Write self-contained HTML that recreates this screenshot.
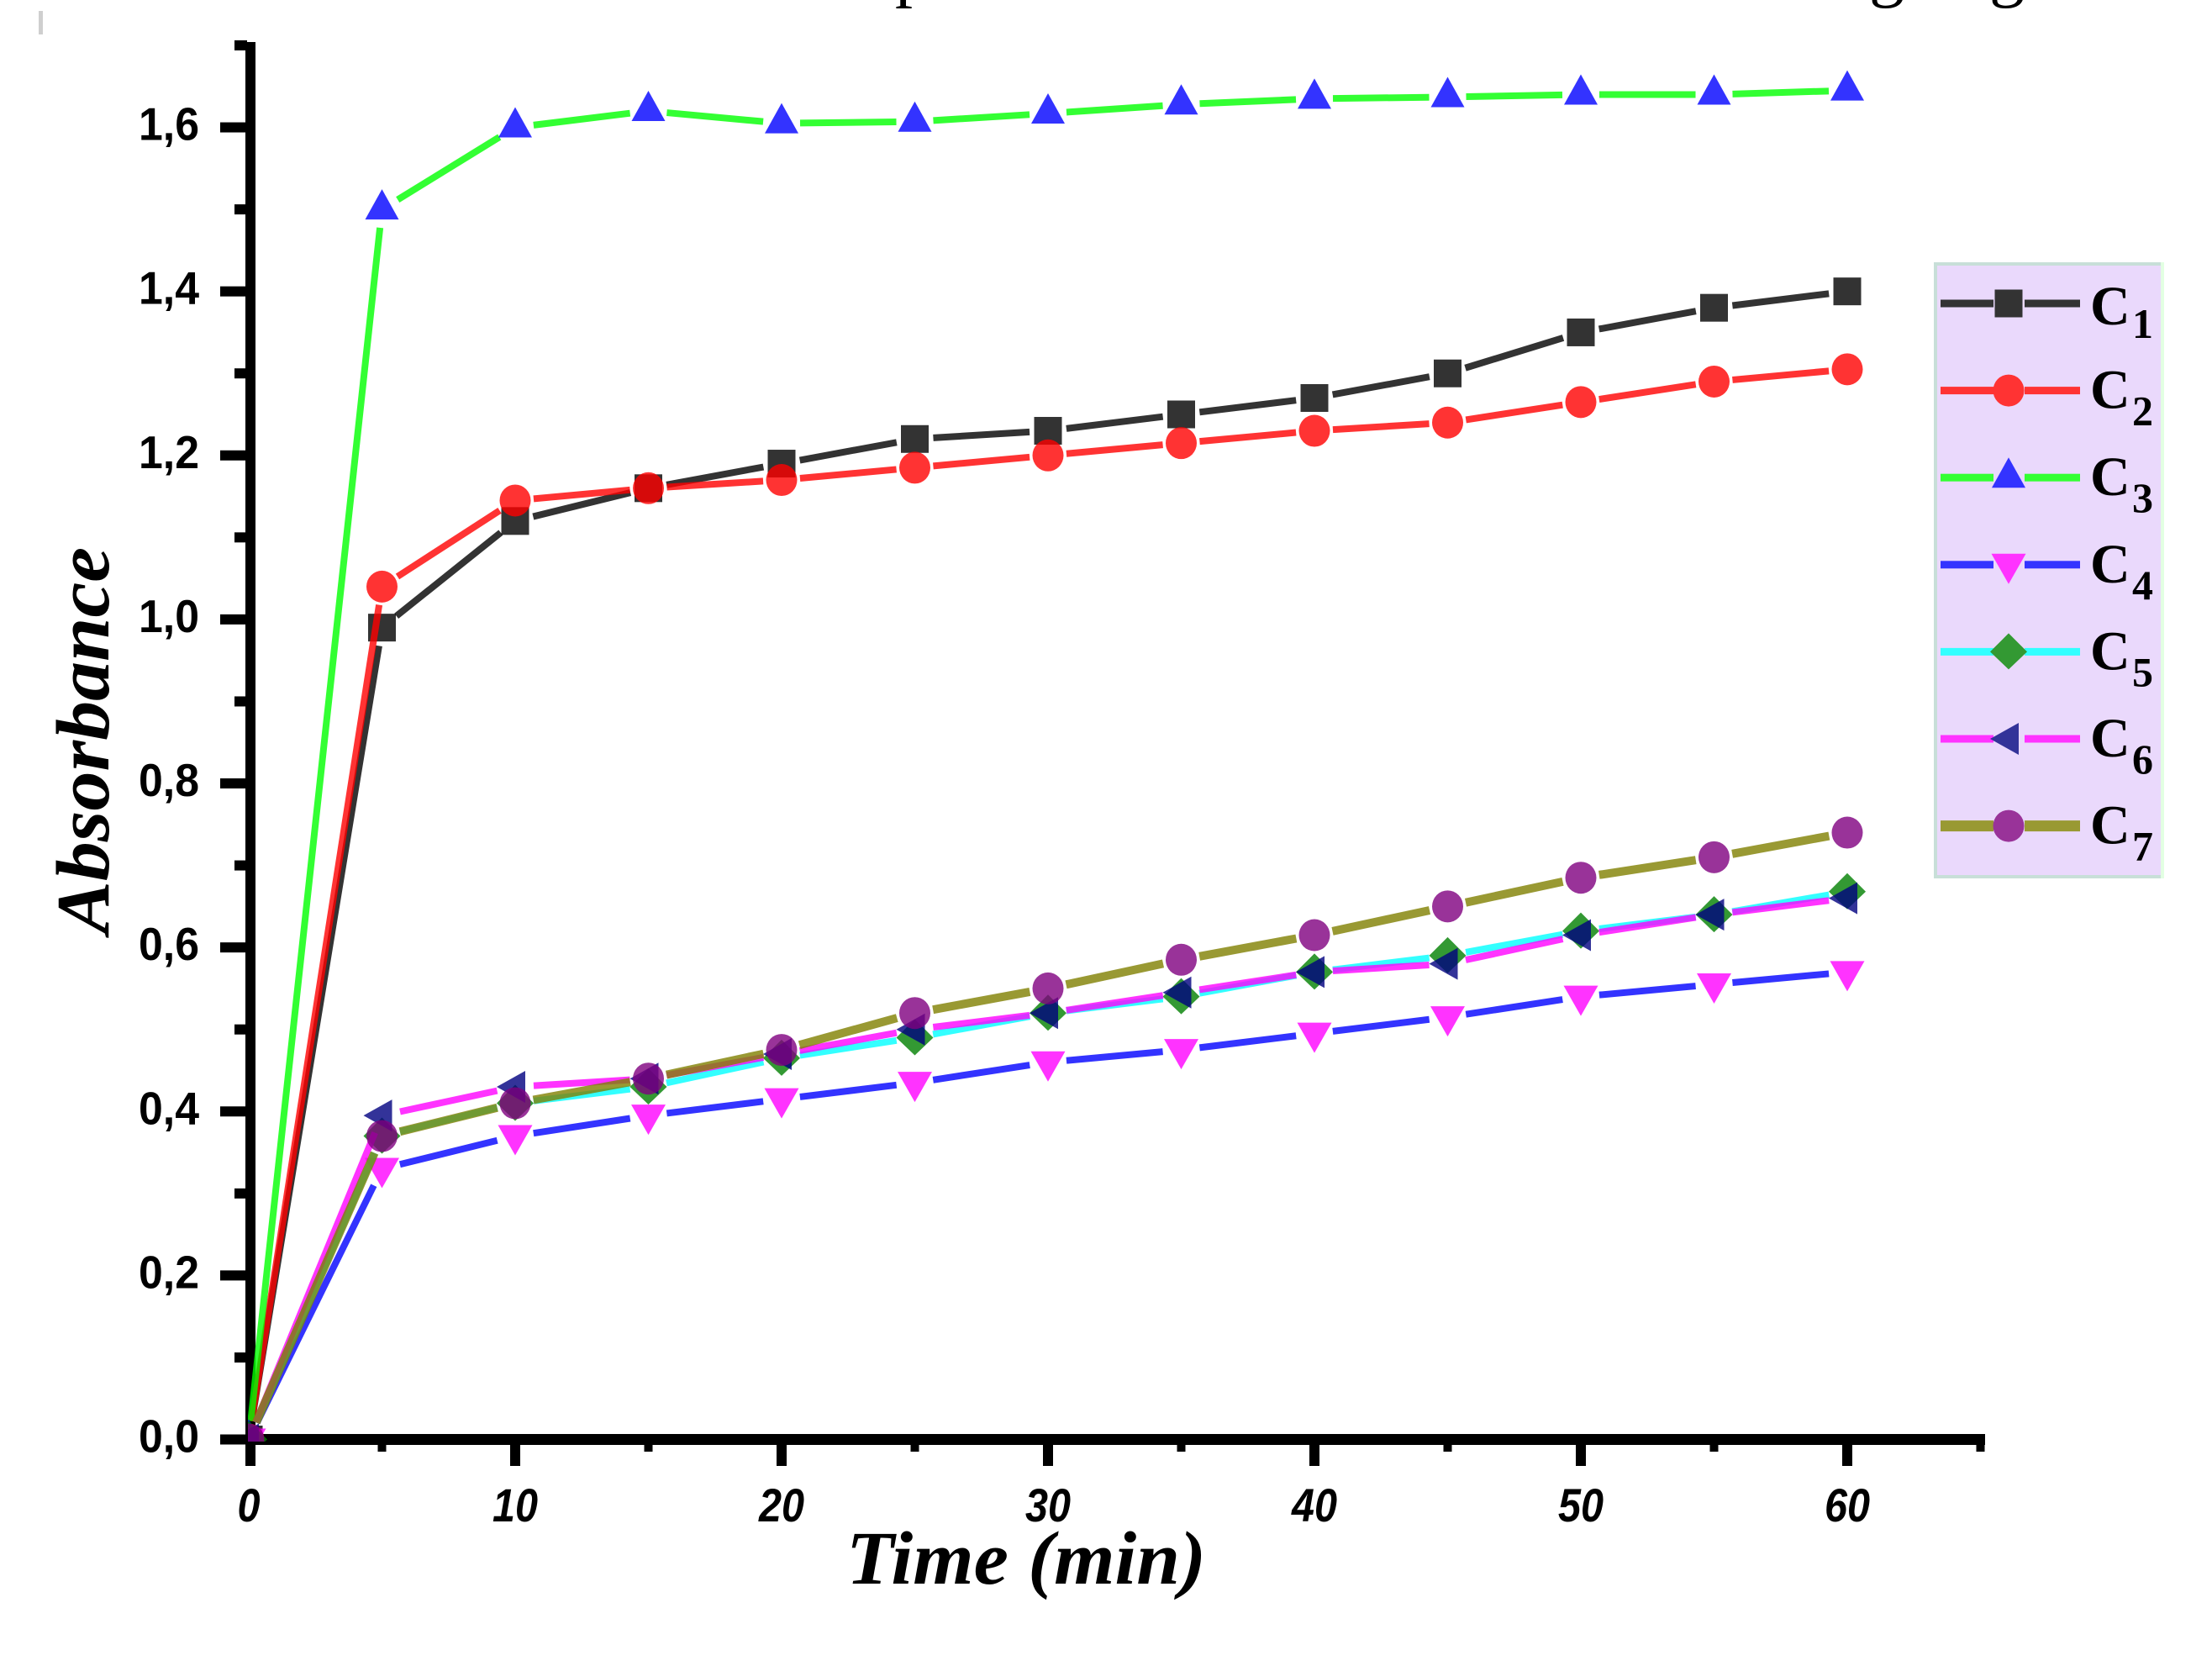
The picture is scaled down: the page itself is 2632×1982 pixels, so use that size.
<!DOCTYPE html>
<html>
<head>
<meta charset="utf-8">
<title>Absorbance vs Time</title>
<style>
html,body{margin:0;padding:0;background:#fff;}
svg{display:block;}
</style>
</head>
<body>
<svg id="chart" width="2632" height="1982" viewBox="0 0 2632 1982" xmlns="http://www.w3.org/2000/svg">
  <rect x="0" y="0" width="2632" height="1982" fill="#fff"/>
  <rect x="46" y="13" width="5" height="28" fill="#cfcfcf"/>
  <g font-family="'Liberation Serif',serif" font-size="84" fill="#000">
    <text x="1065" y="-8">p</text>
    <text x="2224" y="-8">g</text>
    <text x="2367" y="-8">g</text>
  </g>
  <defs>
    <clipPath id="plot-clip"><rect x="295" y="0" width="2337" height="1715"/></clipPath>
  </defs>
  <g id="axes"></g>
  <g id="series" clip-path="url(#plot-clip)"></g>
  <g id="legend"></g>
  <text transform="translate(129 881) rotate(-90)" text-anchor="middle" font-family="'Liberation Serif',serif" font-weight="bold" font-style="italic" font-size="90" textLength="460" lengthAdjust="spacingAndGlyphs" fill="#000">Absorbance</text>
  <text x="1221" y="1884" text-anchor="middle" font-family="'Liberation Serif',serif" font-weight="bold" font-style="italic" font-size="90" textLength="428" lengthAdjust="spacingAndGlyphs" fill="#000">Time (min)</text>
</svg>
<script>
const times = [0, 5, 10, 15, 20, 25, 30, 35, 40, 45, 50, 55, 60];
const c1Values = [0, 0.99, 1.12, 1.16, 1.19, 1.22, 1.23, 1.25, 1.27, 1.30, 1.35, 1.38, 1.40];
const c2Values = [0, 1.04, 1.145, 1.16, 1.17, 1.185, 1.20, 1.215, 1.23, 1.24, 1.265, 1.29, 1.305];
const c3Values = [0, 1.50, 1.60, 1.62, 1.605, 1.607, 1.617, 1.628, 1.635, 1.637, 1.64, 1.64, 1.645];
const c4Values = [0, 0.33, 0.37, 0.395, 0.415, 0.435, 0.46, 0.475, 0.495, 0.515, 0.54, 0.555, 0.57];
const c5Values = [0, 0.37, 0.41, 0.43, 0.465, 0.49, 0.52, 0.54, 0.57, 0.59, 0.62, 0.64, 0.668];
const c6Values = [0, 0.395, 0.43, 0.44, 0.47, 0.50, 0.52, 0.545, 0.57, 0.58, 0.615, 0.64, 0.66];
const c7Values = [0, 0.37, 0.41, 0.44, 0.475, 0.52, 0.55, 0.585, 0.615, 0.65, 0.685, 0.71, 0.74];
const seriesLabels = ['1', '2', '3', '4', '5', '6', '7'];
const xMajorTicks = [0, 10, 20, 30, 40, 50, 60];
const xMinorTicks = [5, 15, 25, 35, 45, 55, 65];
const yMajorTicks = [0, 0.2, 0.4, 0.6, 0.8, 1.0, 1.2, 1.4, 1.6];
const yMinorTicks = [0.1, 0.3, 0.5, 0.7, 0.9, 1.1, 1.3, 1.5, 1.7];
const yTickLabels = ['0,0', '0,2', '0,4', '0,6', '0,8', '1,0', '1,2', '1,4', '1,6'];

const allSeries = [c1Values, c2Values, c3Values, c4Values, c5Values, c6Values, c7Values];
const lineColors = ['#000000', '#ff0000', '#00ff00', '#0000ff', '#00ffff', '#ff00ff', '#808000'];
const markerColors = ['#000000', '#ff0000', '#0000ff', '#ff00ff', '#008000', '#000080', '#800080'];
const legendLineColors = ['#333333', '#ff3333', '#33ff33', '#3333ff', '#33ffff', '#ff33ff', '#999933'];
const legendMarkerColors = ['#333333', '#ff3333', '#3333ff', '#ff33ff', '#339933', '#333399', '#993399'];
const markerKinds = ['square', 'circle', 'up', 'down', 'diamond', 'left', 'circle'];

const NS = 'http://www.w3.org/2000/svg';
const xScale = t => 296 + t * 31.7;
const yScale = v => 1712.5 - v * 975.6;

function make(tag, attrs, parent) {
  const node = document.createElementNS(NS, tag);
  for (const k in attrs) node.setAttribute(k, attrs[k]);
  parent.appendChild(node);
  return node;
}

function markerShape(kind, cx, cy, fill, opacity, parent) {
  const base = { fill: fill, 'fill-opacity': opacity };
  if (kind === 'square') {
    return make('rect', Object.assign({ x: cx - 16.5, y: cy - 16.5, width: 33, height: 33 }, base), parent);
  }
  if (kind === 'circle') {
    return make('ellipse', Object.assign({ cx: cx, cy: cy, rx: 18.5, ry: 19 }, base), parent);
  }
  let pts;
  if (kind === 'up') pts = [[cx, cy - 24], [cx + 20, cy + 12], [cx - 20, cy + 12]];
  if (kind === 'down') pts = [[cx, cy + 23], [cx + 20.5, cy - 13], [cx - 20.5, cy - 13]];
  if (kind === 'left') pts = [[cx - 22, cy], [cx + 12, cy - 19], [cx + 12, cy + 19]];
  if (kind === 'diamond') pts = [[cx, cy - 22], [cx + 22, cy], [cx, cy + 21], [cx - 22, cy]];
  return make('polygon', Object.assign({ points: pts.map(p => p.join(',')).join(' ') }, base), parent);
}

const axes = document.getElementById('axes');
const yAxisLine = make('rect', { x: 292, y: 50, width: 12, height: 1669, fill: '#000' }, axes);


const xAxisLine = make('rect', { x: 292, y: 1706, width: 2070, height: 13, fill: '#000' }, axes);



yMajorTicks.forEach((v, i) => {
  const y = yScale(v);
  const tick = make('rect', { x: 262, y: y - 6, width: 32, height: 12, fill: '#000' }, axes);
  
  
  const label = make('text', {
    x: 201, y: y + 15, 'text-anchor': 'middle',
    'font-family': "'Liberation Sans',sans-serif", 'font-weight': 'bold', 'font-size': 55,
    textLength: 72, lengthAdjust: 'spacingAndGlyphs', fill: '#000'
  }, axes);
  
  
  label.textContent = yTickLabels[i];
});
yMinorTicks.forEach(v => {
  const tick = make('rect', { x: 279, y: yScale(v) - 6, width: 15, height: 12, fill: '#000' }, axes);
  
  
});
xMajorTicks.forEach(t => {
  const x = Math.max(xScale(t), 298);
  const tick = make('rect', { x: x - 6, y: 1717, width: 12, height: 27, fill: '#000' }, axes);
  
  
  const str = String(t);
  const label = make('text', {
    x: xScale(t), y: 1810, 'text-anchor': 'middle',
    'font-family': "'Liberation Sans',sans-serif", 'font-weight': 'bold', 'font-style': 'italic', 'font-size': 56,
    textLength: str.length * 27, lengthAdjust: 'spacingAndGlyphs', fill: '#000'
  }, axes);
  
  
  label.textContent = str;
});
xMinorTicks.forEach(t => {
  const tick = make('rect', { x: xScale(t) - 5, y: 1717, width: 10, height: 10, fill: '#000' }, axes);
  
  
});

const seriesGroup = document.getElementById('series');
const GAP = 22;
allSeries.forEach((values, s) => {
  const group = make('g', {}, seriesGroup);
  
  
  for (let i = 0; i < times.length - 1; i++) {
    const x1 = xScale(times[i]), y1 = yScale(values[i]);
    const x2 = xScale(times[i + 1]), y2 = yScale(values[i + 1]);
    const len = Math.hypot(x2 - x1, y2 - y1);
    const ux = (x2 - x1) / len, uy = (y2 - y1) / len;
    const seg = make('line', {
      x1: x1 + ux * GAP, y1: y1 + uy * GAP, x2: x2 - ux * GAP, y2: y2 - uy * GAP,
      stroke: lineColors[s], 'stroke-opacity': 0.8, 'stroke-width': s === 6 ? 10 : 8
    }, group);
    
    
  }
  values.forEach((v, i) => {
    const m = markerShape(markerKinds[s], xScale(times[i]), yScale(v), markerColors[s], 0.8, group);
    
    
  });
});

const legend = document.getElementById('legend');
const legendBox = make('rect', { x: 2303, y: 314, width: 270, height: 729, fill: '#ead9fc', stroke: '#c8dfd8', 'stroke-width': 4 }, legend);


const legendEdge = make('rect', { x: 2571, y: 312, width: 4, height: 733, fill: '#e2ffe2' }, legend);



seriesLabels.forEach((lab, i) => {
  const y = 361 + i * 103.6;
  const row = make('g', {}, legend);
  
  
  const h = i === 6 ? 13 : 9;
  make('rect', { x: 2309, y: y - h / 2, width: 63, height: h, fill: legendLineColors[i] }, row);
  make('rect', { x: 2409, y: y - h / 2, width: 66, height: h, fill: legendLineColors[i] }, row);
  markerShape(markerKinds[i], 2390, y, legendMarkerColors[i], 1, row);
  const text = make('text', {
    x: 2487, y: y + (i === 0 ? 25 : 21),
    'font-family': "'Liberation Serif',serif", 'font-weight': 'bold', 'font-size': 66, fill: '#000'
  }, row);
  
  
  text.textContent = 'C';
  const sub = make('text', {
    x: 2537, y: y + 41,
    'font-family': "'Liberation Serif',serif", 'font-weight': 'bold', 'font-size': 50, fill: '#000'
  }, row);
  
  
  sub.textContent = lab;
});
</script>
</body>
</html>
